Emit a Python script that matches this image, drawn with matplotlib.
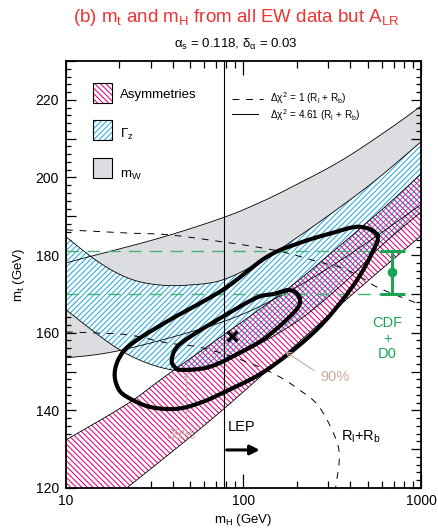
import numpy as np
import matplotlib.pyplot as plt
from matplotlib.patches import Rectangle
from matplotlib.ticker import MultipleLocator, LogLocator, NullFormatter, FuncFormatter

plt.rcParams['font.family'] = ['Liberation Sans', 'DejaVu Sans']
plt.rcParams['mathtext.fontset'] = 'custom'
plt.rcParams['mathtext.rm'] = 'Liberation Sans'
plt.rcParams['mathtext.it'] = 'Liberation Sans'
plt.rcParams['mathtext.bf'] = 'Liberation Sans:bold'
plt.rcParams['hatch.linewidth'] = 0.75

# m_W band (upper / lower edge), mH in GeV, mt in GeV
mw_up_mh = [10, 12.8, 33.7, 76.2, 123, 188, 360, 687, 1000]
mw_up_mt = [178.0, 179.3, 184.4, 189.6, 193.5, 197.6, 204.5, 213.0, 218.4]
mw_lo_mh = [10, 20.9, 76.2, 174, 394, 1000]
mw_lo_mt = [153.5, 155.6, 162.8, 170.3, 180.1, 193.0]

# Gamma_Z band
gz_up_mh = [10, 15.5, 22.9, 33.7, 49.8, 76.2, 123, 206, 346, 559, 1000]
gz_up_mt = [184.7, 178.0, 173.9, 172.3, 172.3, 173.6, 178.2, 184.9, 192.2, 199.4, 209.2]
gz_lo_mh = [10, 20.9, 39.9, 64.4, 98.7, 206, 394, 604, 1000]
gz_lo_mt = [165.9, 155.1, 150.4, 151.5, 154.8, 163.3, 174.1, 182.6, 191.1]

# Asymmetries band
as_up_mh = [10, 22.0, 38.4, 159, 293, 581, 1000]
as_up_mt = [132.4, 141.6, 149.6, 169.7, 179.5, 191.1, 200.9]
as_lo_mh = [22.0, 76.2, 379, 1000]
as_lo_mt = [120.0, 140.1, 168.5, 185.0]

# R_l + R_b, delta chi2 = 1 (dashed)
rb_up_mh = [10, 22.0, 38.4, 76.2, 118, 174, 267, 360, 467, 581, 1000]
rb_up_mt = [186.5, 185.7, 185.2, 183.4, 182.1, 180.6, 178.2, 176.7, 174.1, 171.5, 167.2]
rb_lo_mh = [10, 15.5, 22.9, 36.9, 58.9, 104, 153, 206, 267, 333, 346, 333, 330]
rb_lo_mt = [160.2, 159.9, 159.4, 157.4, 156.1, 152.5, 149.1, 145.3, 140.9, 132.4, 127.2, 121.3, 120.0]

# fit contours (90% outer, 39% inner), closed
c90_mh = [566, 448, 316, 206, 135, 76.2, 38.4, 23.8, 20.1, 18.8, 19.6, 22.0, 29.6,
          42.1, 56.6, 76.2, 135, 257, 410, 531]
c90_mt = [185.2, 187.3, 185.7, 183.1, 179.5, 171.0, 163.3, 157.4, 153.8, 149.6, 145.8,
          143.5, 140.9, 140.4, 141.9, 144.5, 150.4, 160.7, 171.8, 180.6]
c39_mh = [206, 182, 149, 118, 76.2, 51.7, 42.1, 39.4, 40.9, 45.4, 64.4, 95.0, 135, 198]
c39_mt = [169.2, 171.0, 170.0, 169.0, 164.1, 159.4, 156.3, 153.0, 151.2, 150.4, 151.2,
          154.8, 158.9, 165.9]

best_mh, best_mt = 85.7, 159.2
lep_limit = 77.5
cdf_mh, cdf_mt, cdf_err = 690, 175.6, 5.5

pink = '#e6007e'
cyan = '#29a9e1'
grey = '#dcdde0'
green = '#1aa555'
tan = '#c9aa9e'


def smooth(mh, mt, closed=False, n=10):
    # Catmull-Rom curve through the read points, drawn in (log mH, mt)
    p = np.column_stack([np.log10(mh), mt])
    m = len(p)
    if closed:
        ext = np.vstack([p[-1:], p, p[:2]])
        nseg = m
    else:
        ext = np.vstack([p[:1], p, p[-1:]])
        nseg = m - 1
    t = np.linspace(0, 1, n, endpoint=False)[:, None]
    out = []
    for i in range(nseg):
        p0, p1, p2, p3 = ext[i], ext[i + 1], ext[i + 2], ext[i + 3]
        out.append(0.5 * (2 * p1 + (p2 - p0) * t + (2 * p0 - 5 * p1 + 4 * p2 - p3) * t ** 2
                          + (3 * p1 - p0 - 3 * p2 + p3) * t ** 3))
    out.append(p[:1] if closed else p[-1:])
    out = np.vstack(out)
    return list(10 ** out[:, 0]), list(out[:, 1])


fig = plt.figure(figsize=(4.38, 5.28), dpi=100)
ax = fig.add_axes([66 / 438, 1 - 488 / 528, 355 / 438, 427 / 528])
ax.set_xscale('log')
ax.set_xlim(10, 1000)
ax.set_ylim(120, 230)

mw_up = smooth(mw_up_mh, mw_up_mt)
mw_lo = smooth(mw_lo_mh, mw_lo_mt)
gz_up = smooth(gz_up_mh, gz_up_mt)
gz_lo = smooth(gz_lo_mh, gz_lo_mt)
as_up = smooth(as_up_mh, as_up_mt)
as_lo = smooth(as_lo_mh, as_lo_mt)

# bands
ax.fill(mw_up[0] + mw_lo[0][::-1], mw_up[1] + mw_lo[1][::-1], facecolor=grey, lw=0, zorder=1)
gz_x = gz_up[0] + gz_lo[0][::-1]
gz_y = gz_up[1] + gz_lo[1][::-1]
as_x = as_up[0] + as_lo[0][::-1] + [10]
as_y = as_up[1] + as_lo[1][::-1] + [120]
ax.fill(gz_x, gz_y, facecolor='white', lw=0, zorder=2)
ax.fill(as_x, as_y, facecolor='white', lw=0, zorder=2)
ax.fill(gz_x, gz_y, facecolor='none', edgecolor=cyan, hatch='//////', lw=0, zorder=3)
ax.fill(as_x, as_y, facecolor='none', edgecolor=pink, hatch='\\\\\\\\\\\\', lw=0, zorder=3)
for xs, ys in [mw_up, mw_lo, gz_up, gz_lo, as_up, as_lo]:
    ax.plot(xs, ys, color='black', lw=0.6, zorder=4)

# R_l + R_b dashed contour
for xs, ys in [smooth(rb_up_mh, rb_up_mt), smooth(rb_lo_mh, rb_lo_mt)]:
    ax.plot(xs, ys, color='black', lw=0.7, dashes=(7, 7), zorder=5)

# CDF + D0
for m in [cdf_mt - cdf_err, cdf_mt + cdf_err]:
    ax.plot([10, 740], [m, m], color='#47b277', lw=1.0, dashes=(9, 6), zorder=5)
ax.errorbar([cdf_mh], [cdf_mt], yerr=[cdf_err], fmt='o', color=green, ms=6,
            elinewidth=2.2, capsize=9, capthick=2.2, zorder=7)
ax.text(645, 158.5, 'CDF\n+\nD0', color=green, fontsize=10.5, ha='center', va='center',
        linespacing=1.15, zorder=7)

# LEP limit
ax.axvline(lep_limit, color='black', lw=0.8, zorder=6)
ax.annotate('', xy=(128, 129.8), xytext=(lep_limit, 129.8),
            arrowprops=dict(arrowstyle='-|>', color='black', lw=2.2, mutation_scale=14), zorder=7)
ax.text(81, 135.7, 'LEP', fontsize=10.5, ha='left', va='center', zorder=7)
ax.text(356, 133.1, 'R$_\\mathrm{l}$+R$_\\mathrm{b}$', fontsize=10.5, ha='left', va='center', zorder=7)

# fit contours
for xs, ys in [smooth(c90_mh, c90_mt, closed=True), smooth(c39_mh, c39_mt, closed=True)]:
    ax.plot(xs, ys, color='black', lw=3.0, solid_joinstyle='round', zorder=8)
ax.plot([best_mh], [best_mt], marker='x', color='black', ms=7, mew=2.4, zorder=9)

# contour labels
ax.annotate('', xy=(166, 155.6), xytext=(257, 149.9),
            arrowprops=dict(arrowstyle='->', color=tan, lw=0.8), zorder=9)
ax.text(272, 148.6, '90%', color=tan, fontsize=10.5, ha='left', va='center', zorder=9)
ax.annotate('', xy=(47.9, 150.6), xytext=(47.9, 136.2),
            arrowprops=dict(arrowstyle='->', color=tan, lw=0.8), zorder=3.5)
ax.text(44.5, 133.6, '39%', color=tan, fontsize=10.5, ha='center', va='center', zorder=3.5)

# legend
boxes = [(0.902, pink, '\\\\\\\\\\\\', 'white', 'Asymmetries', 0.920),
         (0.815, cyan, '//////', 'white', '$\\Gamma_\\mathrm{z}$', 0.827),
         (0.726, 'black', None, grey, 'm$_\\mathrm{W}$', 0.733)]
for y0, hc, h, fc, lab, ty in boxes:
    ax.add_patch(Rectangle((0.076, y0), 0.054, 0.047, transform=ax.transAxes,
                           facecolor=fc, edgecolor='none', zorder=10))
    if h:
        ax.add_patch(Rectangle((0.076, y0), 0.054, 0.047, transform=ax.transAxes,
                               facecolor='none', edgecolor=hc, hatch=h, lw=0, zorder=10))
    ax.add_patch(Rectangle((0.076, y0), 0.054, 0.047, transform=ax.transAxes,
                           facecolor='none', edgecolor='black', lw=0.8, zorder=11))
    ax.text(0.153, ty, lab, transform=ax.transAxes, fontsize=9.5, va='center', zorder=11)

ax.plot([0.468, 0.555], [0.912, 0.912], transform=ax.transAxes, color='black', lw=0.7,
        dashes=(7, 7), zorder=11)
ax.plot([0.468, 0.540], [0.876, 0.876], transform=ax.transAxes, color='black', lw=0.7, zorder=11)
ax.text(0.575, 0.912, '$\\Delta\\chi^2$ = 1 (R$_\\mathrm{l}$ + R$_\\mathrm{b}$)', transform=ax.transAxes,
        fontsize=7.2, va='center', zorder=11)
ax.text(0.575, 0.874, '$\\Delta\\chi^2$ = 4.61 (R$_\\mathrm{l}$ + R$_\\mathrm{b}$)', transform=ax.transAxes,
        fontsize=7.2, va='center', zorder=11)

# axes styling
ax.set_xticks([10, 100, 1000])
ax.xaxis.set_major_formatter(FuncFormatter(lambda v, p: '%d' % v))
ax.xaxis.set_minor_locator(LogLocator(base=10, subs=range(2, 10)))
ax.xaxis.set_minor_formatter(NullFormatter())
ax.yaxis.set_major_locator(MultipleLocator(10))
ax.yaxis.set_minor_locator(MultipleLocator(2))
ax.yaxis.set_major_formatter(FuncFormatter(lambda v, p: '%d' % v if int(round(v)) % 20 == 0 else ''))
ax.tick_params(which='both', direction='in', top=True, right=True, labelsize=10, width=0.9)
ax.tick_params(axis='x', which='major', length=10, pad=4)
ax.tick_params(axis='x', which='minor', length=5)
ax.tick_params(axis='y', which='major', length=7, pad=5)
ax.tick_params(axis='y', which='minor', length=3.5)
for s in ax.spines.values():
    s.set_linewidth(1.3)
    s.set_zorder(12)
ax.set_xlabel('m$_\\mathrm{H}$ (GeV)', fontsize=9.5, labelpad=3)
ax.set_ylabel('m$_\\mathrm{t}$ (GeV)', fontsize=9.5, labelpad=6)

fig.text(236 / 438, 1 - 17 / 528, '(b) m$_\\mathrm{t}$ and m$_\\mathrm{H}$ from all EW data but A$_\\mathrm{LR}$',
         color='#ee3333', fontsize=13.5, ha='center', va='center')
fig.text(236 / 438, 1 - 44 / 528, '$\\alpha_\\mathrm{s}$ = 0.118, $\\delta_\\alpha$ = 0.03',
         fontsize=9.5, ha='center', va='center')

fig.savefig('out.png', dpi=100)
